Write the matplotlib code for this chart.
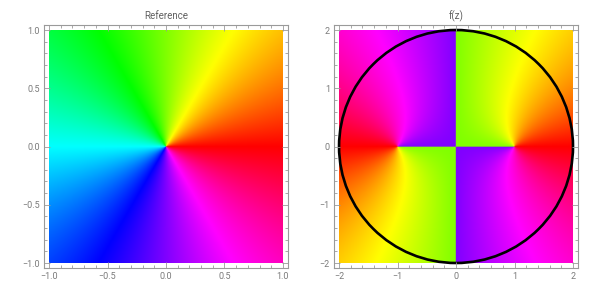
import numpy as np
import matplotlib.pyplot as plt
from matplotlib.colors import hsv_to_rgb
from matplotlib.patches import Circle
from matplotlib.ticker import MultipleLocator

plt.rcParams["font.family"] = ["Roboto", "DejaVu Sans"]

# plot ranges (square domains)
ref_range = [-1.0, 1.0]
f_range = [-2.0, 2.0]
circle_center = (0.0, 0.0)
circle_radius = 2.0

ref_ticks = [-1.0, -0.5, 0.0, 0.5, 1.0]
ref_ticklabels = ["\u22121.0", "\u22120.5", "0.0", "0.5", "1.0"]
f_ticks = [-2, -1, 0, 1, 2]
f_ticklabels = ["\u22122", "\u22121", "0", "1", "2"]

titles = ["Reference", "f(z)"]
n = 701


def f(z):
    return np.sqrt(z * z - 1)


def phase_image(lo, hi, func):
    x = np.linspace(lo, hi, n)
    X, Y = np.meshgrid(x, x[::-1])
    w = func(X + 1j * Y)
    hue = (np.angle(w) / (2 * np.pi)) % 1.0
    hsv = np.stack([hue, np.ones_like(hue), np.ones_like(hue)], axis=-1)
    return hsv_to_rgb(hsv)


gray = "#9a9a9a"
fig = plt.figure(figsize=(6, 2.94), dpi=100)
ax1 = fig.add_axes([0.0733, 0.0884, 0.4067, 0.8265])
ax2 = fig.add_axes([0.5567, 0.0884, 0.4067, 0.8265])

img1 = phase_image(ref_range[0], ref_range[1], lambda z: z)
ax1.imshow(img1, extent=[ref_range[0], ref_range[1], ref_range[0], ref_range[1]],
           interpolation="antialiased")
pad1 = 0.043 * (ref_range[1] - ref_range[0]) / 2
ax1.set_xlim(ref_range[0] - pad1, ref_range[1] + pad1)
ax1.set_ylim(ref_range[0] - pad1, ref_range[1] + pad1)

img2 = phase_image(f_range[0], f_range[1], f)
ax2.imshow(img2, extent=[f_range[0], f_range[1], f_range[0], f_range[1]],
           interpolation="antialiased")
ax2.add_patch(Circle(circle_center, circle_radius, fill=False, lw=1.9, color="black"))
pad2 = 0.043 * (f_range[1] - f_range[0]) / 2
ax2.set_xlim(f_range[0] - pad2, f_range[1] + pad2)
ax2.set_ylim(f_range[0] - pad2, f_range[1] + pad2)

for ax, ticks, labels, minor, title in [
    (ax1, ref_ticks, ref_ticklabels, 0.1, titles[0]),
    (ax2, f_ticks, f_ticklabels, 0.2, titles[1]),
]:
    ax.set_aspect("auto")
    ax.set_xticks(ticks)
    ax.set_xticklabels(labels)
    ax.set_yticks(ticks)
    ax.set_yticklabels(labels)
    ax.xaxis.set_minor_locator(MultipleLocator(minor))
    ax.yaxis.set_minor_locator(MultipleLocator(minor))
    ax.tick_params(which="both", direction="in", top=True, right=True,
                   color=gray, labelcolor="#7a7a7a", labelsize=6.5, width=0.6)
    ax.tick_params(which="major", length=4, pad=3)
    ax.tick_params(which="minor", length=2)
    for s in ax.spines.values():
        s.set_color(gray)
        s.set_linewidth(0.8)
    ax.set_title(title, fontsize=7, color="#606060", pad=4)

fig.savefig("out.png", dpi=100)
